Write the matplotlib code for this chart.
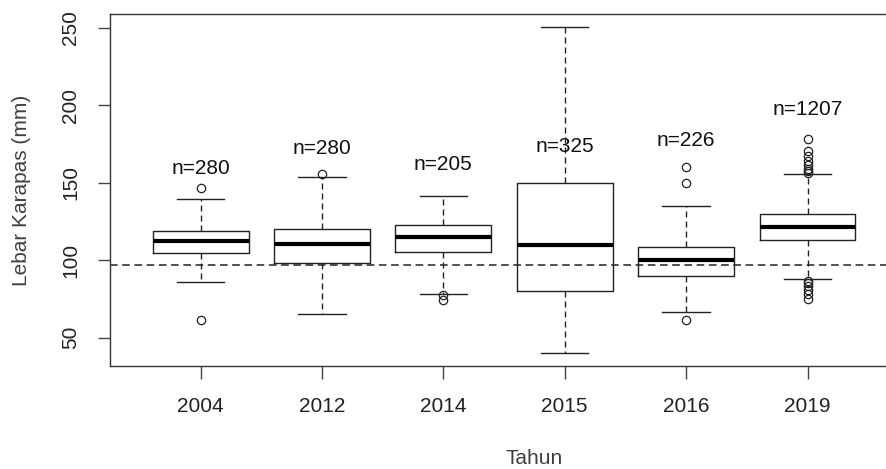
import matplotlib
matplotlib.use('Agg')
import matplotlib.pyplot as plt

# === Data ===
years = ['2004', '2012', '2014', '2015', '2016', '2019']
n_labels = ['n=280', 'n=280', 'n=205', 'n=325', 'n=226', 'n=1207']
label_y = [159, 172, 162, 173, 177, 197]

whisker_low = [86.2, 65.4, 78.1, 40.2, 66.3, 88.0]
q1 = [104.5, 98.5, 105.4, 80.0, 89.7, 113.1]
median = [112.5, 110.7, 115.0, 109.7, 100.0, 121.3]
q3 = [118.7, 120.2, 122.8, 149.9, 108.2, 129.9]
whisker_high = [139.5, 153.5, 141.3, 250.5, 135.0, 155.3]
outliers = [
    [146.5, 61.7],
    [155.5],
    [77.4, 74.6],
    [],
    [160.4, 149.9, 61.3],
    [177.9, 170.3, 167.0, 164.0, 161.3, 159.0, 157.5, 156.5,
     86.5, 85.4, 83.2, 80.6, 78.0, 75.3],
]
ref_line = 97.2

plt.rcParams['font.family'] = ['Liberation Sans', 'DejaVu Sans']

fig = plt.figure(figsize=(8.86, 4.69), dpi=100)
ax = fig.add_axes([0.1236, 0.2196, 0.8906, 0.7512])

ink = '#222222'
stats = []
for i in range(len(years)):
    stats.append({
        'whislo': whisker_low[i], 'q1': q1[i], 'med': median[i],
        'q3': q3[i], 'whishi': whisker_high[i], 'fliers': outliers[i],
    })

ax.bxp(stats, positions=range(1, len(years) + 1), widths=0.79,
       showfliers=True, patch_artist=False,
       boxprops=dict(color=ink, linewidth=1.0),
       medianprops=dict(color='black', linewidth=3.0, solid_capstyle='butt'),
       whiskerprops=dict(color=ink, linewidth=1.0, linestyle=(0, (4.3, 2.9))),
       capprops=dict(color=ink, linewidth=1.0),
       capwidths=0.39,
       flierprops=dict(marker='o', markerfacecolor='none', markeredgecolor=ink,
                       markersize=6, markeredgewidth=0.9))

ax.axhline(ref_line, color=ink, linewidth=1.1, linestyle=(0, (5, 3)), zorder=1)

for i, txt in enumerate(n_labels):
    ax.text(i + 1, label_y[i], txt, ha='center', va='center', fontsize=15, color='#111111')

ax.set_xlim(0.25, 6.75)
ax.set_ylim(31.8, 258.9)
ax.set_xticks(range(1, len(years) + 1))
ax.set_xticklabels(years)
ax.set_yticks([50, 100, 150, 200, 250])
ax.tick_params(axis='x', length=9, width=1, color='#444444', labelsize=15, pad=13, labelcolor='#222222')
ax.tick_params(axis='y', length=9, width=1, color='#444444', labelsize=15, pad=12, labelcolor='#222222')
for lbl in ax.get_yticklabels():
    lbl.set_rotation(90)
    lbl.set_va('center')

for s in ax.spines.values():
    s.set_color('#333333')
    s.set_linewidth(1.0)
ax.spines['right'].set_visible(False)

fig.text(534 / 886, 1 - 458 / 469, 'Tahun', ha='center', va='center', fontsize=15, color='#404040')
fig.text(22 / 886, 1 - 190 / 469, 'Lebar Karapas (mm)', ha='center', va='center',
         rotation=90, fontsize=15, color='#404040')

fig.savefig('out.png', dpi=100)
